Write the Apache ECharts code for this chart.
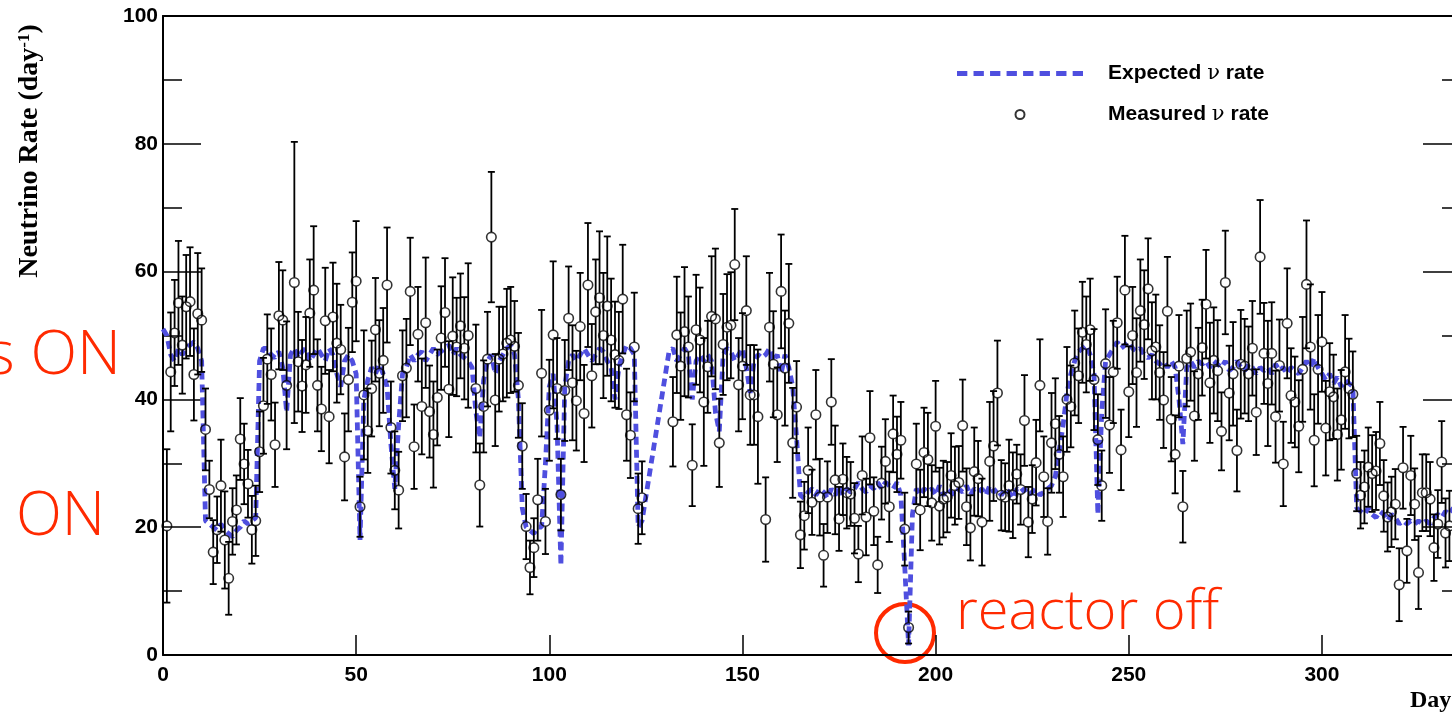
<!DOCTYPE html>
<html><head><meta charset="utf-8">
<script src="https://cdn.jsdelivr.net/npm/echarts@6/dist/echarts.min.js"></script>
<style>html,body{margin:0;padding:0;background:#fff}#c{width:1452px;height:720px}</style>
</head><body><div id="c"></div>
<script>
// ---- tick labels ----
const xTickLabels = ['0','50','100','150','200','250','300'];
const yTickLabels = ['0','20','40','60','80','100'];

// ---- expected rate, one value per day (index = day), null where no prediction ----
const expected = [
51,50,47,46,48,47,48,48.5,49,48,46,
21,20.5,20,19.5,20.5,19.5,19,18.5,19.5,20,21,20.5,21,21.5,
46,48,48,47,46.5,47.5,45,38,47,48,46.5,47.5,48,46,47,48,47,46,48,47,44,42,46,47,46,44,
18,40,43,45,44,45.5,44,42,33,26,36,44,45,47,46,47,47.5,46,47,48,47,47.5,48,48.5,47,48,47,46.5,46,45,
38,34,43,46,47,44,46,47,48,48.5,47,40,23,20,19.5,19,20,20,30,42,44,36,14,42,46,47,46,47,48,47,46,47,48,47.5,46,45,40,45,47,48.5,48,47,20,21,
null,null,null,null,null,null,
47.5,48,46,47,48,47,40,46,47,46,47,46,38,35,47,48,47.5,46,47,48,45,41,46,47,46.5,47,48,46,47,44,47,45,42,34,
25,24.5,25.5,26,25,26,25.5,24.5,26,25,26.5,25,26,25.5,26,27,26,25.5,26.5,26,27,26,27,26.5,26,27,25,14,1.5,22,26,
25,26,25.5,26,25,26.5,25,26,25.5,25,26,25.5,26.5,25,26,25.5,26,25,26.5,25.5,26,25,26,25.5,24.5,26,25.5,26,25,25.5,26,25,25.5,26,26.5,
28,32,36,41,44,46,47.5,48,48.5,47,44,22,38,46,47,48,49,48,48.5,49,48,47.5,48,47,46.5,47,46,45.5,46,45,46,45,40,33,
45,46,45,46,45.5,46,45,46,45.5,45,46,44.5,45,46,45,44.5,45.5,45,44,45,44.5,45,44,45.5,44.5,45,44,45,44.5,44,45,46,45,46.5,45,44,43,44,42.5,43.5,42,43,42.5,42,
23,22.5,22,23,22,21.5,22.5,22,21,22,21.5,20.5,21,20.5,21,20.5,21,20.5,21,20.5,21.5,22,21.5,22.5,22,23,22.5,23
];

// ---- measured rate ----
const measDays = [
1,2,3,4,5,6,7,8,9,10,11,12,13,14,15,16,17,18,19,20,21,22,23,24,25,26,27,28,29,30,31,32,
34,35,36,37,38,39,40,41,42,43,44,45,46,47,48,49,50,51,52,53,54,55,56,57,58,59,60,61,62,63,64,65,66,67,68,69,70,71,72,73,74,75,76,77,78,79,
81,82,83,84,85,86,87,88,89,90,91,92,93,94,95,96,97,98,99,100,101,102,103,104,105,106,107,108,109,110,111,112,113,114,115,116,117,118,119,120,121,122,123,124,
132,133,134,135,136,137,138,139,140,141,142,143,144,145,146,147,148,149,150,151,152,153,154,
156,157,158,159,160,161,162,163,164,165,166,167,168,169,170,171,172,173,174,175,176,177,178,179,180,181,182,183,184,185,186,187,188,189,190,191,192,193,
195,196,197,198,199,200,201,202,203,204,205,206,207,208,209,210,211,212,
214,215,216,217,218,219,220,221,222,223,224,225,226,227,228,229,
230,231,232,233,234,235,236,237,238,239,240,241,242,243,244,245,246,247,248,249,
250,251,252,253,254,255,256,257,258,259,260,261,262,263,264,265,266,267,268,269,
270,271,272,273,274,275,276,277,278,279,280,281,282,283,284,285,286,287,288,289,
290,291,292,293,294,295,296,297,298,299,300,301,302,303,304,305,306,307,308,309,
310,311,312,313,314,315,316,317,318,319,320,321,322,323,324,325,326,327,328,329,330,331,332,333
];
const measValues = [
20.2,44.3,50.4,55.1,48.5,54.5,55.3,43.9,53.4,52.4,35.3,25.9,16.1,19.6,26.5,18.0,12.0,20.9,22.7,33.8,29.9,26.8,19.6,21.0,31.8,39.0,46.3,43.9,32.9,53.1,52.4,42.2,
58.3,45.9,42.1,45.4,53.5,57.1,42.2,38.5,52.3,37.3,52.9,48.8,47.8,31.0,43.1,55.2,58.5,23.2,40.7,35.1,41.7,50.9,44.1,46.1,57.9,35.6,28.9,25.8,43.7,44.9,56.9,32.6,50.2,38.9,52.0,38.1,34.5,40.3,49.6,53.6,41.6,49.9,48.2,51.5,48.0,50.0,
41.7,26.6,38.9,46.3,65.4,39.9,46.3,47.1,48.8,49.3,48.3,42.2,32.7,20.1,13.7,16.8,24.3,44.1,20.9,38.3,50.1,41.7,25.1,41.4,52.7,42.6,39.8,51.4,37.8,57.9,43.7,53.7,55.9,50.0,54.6,49.3,47.0,46.1,55.7,37.6,34.4,48.2,22.9,24.6,
36.5,50.1,45.2,50.6,48.2,29.7,50.9,49.3,39.6,45.1,53.0,52.6,33.2,48.6,51.3,51.6,61.1,42.3,45.2,53.9,40.7,40.7,37.3,
21.2,51.3,45.5,37.6,56.9,44.9,51.9,33.2,38.8,18.8,21.8,28.9,23.9,37.6,24.7,15.6,24.7,39.6,27.4,21.3,27.5,25.4,25.2,21.4,15.8,28.1,21.6,34.0,22.5,14.1,26.9,30.3,23.2,34.6,31.4,33.6,19.7,4.3,
29.9,22.7,31.7,30.6,23.8,35.8,23.3,24.4,24.7,28.1,26.5,27.0,35.9,23.2,19.9,28.7,27.6,20.8,
30.3,32.7,41.0,25.0,24.7,26.5,25.0,28.3,25.9,36.7,20.8,24.4,30.1,42.2,27.9,20.9,
33.2,36.2,31.4,27.9,40.0,38.9,45.7,43.7,50.5,48.6,50.9,43.1,33.7,26.5,45.6,36.0,44.3,52.0,32.1,57.1,
41.2,50.0,44.2,53.9,51.7,57.3,47.6,48.2,44.2,39.9,53.8,36.9,31.4,45.2,23.2,46.4,47.4,37.4,44.0,48.1,
54.9,42.6,46.1,44.5,35.0,58.3,41.0,44.0,32.0,45.5,45.2,44.0,48.0,38.0,62.3,47.2,42.5,47.2,37.3,45.3,
29.9,51.9,40.6,39.6,35.8,44.7,58.0,48.2,33.6,44.7,49.0,35.5,41.2,40.4,34.5,36.8,44.3,41.7,40.8,28.4,
25.0,26.3,29.4,28.4,28.8,33.1,24.9,21.6,22.4,23.6,11.0,29.3,16.3,28.1,23.6,12.9,25.4,25.4,24.4,16.8,20.5,30.2,19.1,20.2
];
const measErrors = [
12.0,9.3,8.3,9.7,7.6,8.1,8.5,7.2,9.5,8.1,6.4,4.5,5.0,5.2,7.2,7.6,5.7,5.2,5.4,6.4,6.3,5.3,5.3,5.5,6.3,7.5,7.0,7.2,6.6,8.4,7.8,10.0,
22.0,7.8,7.2,7.5,8.4,10.0,7.2,6.6,8.3,7.3,8.5,9.3,7.0,6.8,8.1,7.8,9.4,4.7,10.1,6.6,7.5,8.1,8.3,8.2,9.0,7.2,6.1,6.0,7.1,7.7,8.4,6.6,7.4,7.5,10.2,7.2,8.3,7.5,8.1,8.5,7.5,9.2,7.7,8.2,8.0,11.3,
10.0,6.5,7.2,7.4,10.2,7.2,8.2,7.4,8.5,8.3,7.1,8.2,6.7,5.1,4.2,4.6,6.4,9.9,5.1,7.9,11.5,7.9,5.6,7.9,8.1,9.0,7.8,8.4,7.6,9.7,8.1,8.2,10.4,9.8,10.9,9.6,8.3,7.6,8.5,7.2,6.7,8.5,5.5,5.7,
7.0,9.1,8.4,10.1,7.9,6.4,8.6,8.2,10.0,7.2,9.4,11.0,6.9,7.9,8.3,8.3,8.7,7.3,8.3,8.5,7.8,7.8,10.5,
6.6,8.5,8.3,7.4,8.9,9.0,9.3,8.6,7.2,5.2,5.3,6.7,5.1,7.0,6.0,4.9,5.6,6.7,8.5,5.0,5.6,5.6,5.0,5.5,4.4,6.1,6.0,7.3,5.3,4.4,5.7,6.6,5.5,6.0,5.9,6.0,5.7,2.5,
6.3,6.3,7.0,7.3,5.9,7.1,6.0,6.0,5.5,6.6,6.1,5.7,7.2,6.0,5.1,6.9,5.9,6.8,
9.3,8.6,8.2,5.5,5.3,7.2,6.7,4.6,5.5,7.1,5.5,5.3,6.7,7.2,6.3,5.2,
7.8,7.1,6.0,6.3,8.2,6.4,8.2,7.4,7.9,7.5,8.0,7.9,7.1,5.5,8.5,7.5,8.0,7.2,6.3,8.5,
7.1,7.6,8.5,8.0,8.5,7.9,7.6,8.2,7.4,7.5,8.5,6.6,6.1,8.0,5.6,7.5,7.6,7.0,7.2,7.5,
8.5,9.4,8.3,7.9,6.1,8.1,7.4,8.1,6.4,8.5,7.4,7.4,7.4,6.7,8.9,7.9,9.8,8.0,7.2,7.2,
6.6,8.6,7.4,7.1,7.2,8.2,10.0,9.8,7.2,8.5,7.8,7.4,7.6,6.6,7.2,7.8,8.9,7.8,6.7,5.9,
5.2,5.7,6.2,6.0,6.1,6.5,5.6,5.4,5.5,5.5,5.7,6.4,5.0,6.2,5.6,5.7,6.0,6.0,5.8,5.2,5.3,6.4,5.4,5.5
];

// ---- build library data ----
const expData = [];
expected.forEach((v, i) => { if (v !== null) expData.push([i, v]); });
const measData = measDays.map((d, i) => [d, measValues[i], measErrors[i]]);

const BLUE = '#4f4fdf';
const RED = '#ff2a00';
const AXFONT = 'Liberation Sans, Arial, Helvetica, sans-serif';
const SERIF = 'Liberation Serif, Times New Roman, serif';
const ANNOT = 'Open Sans, Lato, sans-serif';

const chart = echarts.init(document.getElementById('c'), null, {renderer: 'canvas'});

const dashIcon = 'path://M0 0H10V5H0Z M16 0H26V5H16Z M32 0H42V5H32Z M48 0H58V5H48Z M64 0H74V5H64Z M80 0H90V5H80Z M96 0H106V5H96Z M112 0H122V5H112Z';

chart.setOption({
  animation: false,
  backgroundColor: '#fff',
  grid: {left: 163, top: 16, width: 1298, height: 639, containLabel: false, outerBoundsMode: 'none'},
  xAxis: [{
    type: 'value', min: 0, max: 336, interval: 50, position: 'bottom',
    axisLine: {show: true, onZero: false, lineStyle: {color: '#000', width: 2}},
    axisTick: {show: true, inside: true, length: 20, lineStyle: {color: '#000', width: 1.5}},
    axisLabel: {color: '#000', fontFamily: AXFONT, fontWeight: 'bold', fontSize: 21, margin: 10,
      formatter: v => xTickLabels.indexOf(String(v)) >= 0 ? String(v) : ''},
    splitLine: {show: false}
  }, {
    type: 'value', min: 0, max: 336, position: 'top',
    axisLine: {show: true, onZero: false, lineStyle: {color: '#000', width: 2}},
    axisTick: {show: false}, axisLabel: {show: false}, splitLine: {show: false}
  }],
  yAxis: [{
    type: 'value', min: 0, max: 100, interval: 20, position: 'left',
    axisLine: {show: true, onZero: false, lineStyle: {color: '#000', width: 2}},
    axisTick: {show: true, inside: true, length: 38, lineStyle: {color: '#000', width: 1.5}},
    minorTick: {show: true, splitNumber: 2, length: 19, lineStyle: {color: '#000', width: 1.5}},
    axisLabel: {color: '#000', fontFamily: AXFONT, fontWeight: 'bold', fontSize: 21, margin: 5,
      formatter: v => yTickLabels.indexOf(String(v)) >= 0 ? String(v) : ''},
    splitLine: {show: false}
  }, {
    type: 'value', min: 0, max: 100, interval: 20, position: 'right',
    axisLine: {show: true, onZero: false, lineStyle: {color: '#000', width: 2}},
    axisTick: {show: true, inside: true, length: 38, lineStyle: {color: '#000', width: 1.5}},
    minorTick: {show: true, splitNumber: 2, length: 19, lineStyle: {color: '#000', width: 1.5}},
    axisLabel: {show: false}, splitLine: {show: false}
  }],
  legend: {
    orient: 'vertical', left: 957, top: 62, padding: 0,
    itemWidth: 126, itemHeight: 9, itemGap: 18,
    formatter: name => name.replace('ν', '{nu|ν}'),
    textStyle: {color: '#000', fontFamily: AXFONT, fontWeight: 'bold', fontSize: 21, lineHeight: 23, padding: [0, 0, 0, 20],
      rich: {nu: {fontFamily: 'DejaVu Serif, Liberation Serif, serif', fontWeight: 'normal', fontSize: 21, color: '#000'}}},
    data: [
      {name: 'Expected ν rate', icon: dashIcon, itemStyle: {color: BLUE, borderWidth: 0}},
      {name: 'Measured ν rate', icon: 'circle'}
    ]
  },
  series: [{
    name: 'Expected ν rate', type: 'line', data: expData, xAxisIndex: 0, yAxisIndex: 0,
    symbol: 'none', showSymbol: false, silent: true, z: 2,
    lineStyle: {color: BLUE, width: 4.8, type: [8, 5]},
    itemStyle: {color: BLUE}
  }, {
    name: 'errors', type: 'custom', data: measData, xAxisIndex: 0, yAxisIndex: 0, z: 3, silent: true,
    encode: {x: 0, y: 1},
    renderItem: function (params, api) {
      const x = api.value(0), y = api.value(1), e = api.value(2);
      const c = api.coord([x, y]);
      const t = api.coord([x, y + e]);
      const b = api.coord([x, Math.max(0, y - e)]);
      const r = 5, cap = 3.5;
      const st = {stroke: '#000', lineWidth: 1.8};
      const kids = [];
      if (c[1] - r > t[1]) kids.push({type: 'line', shape: {x1: c[0], y1: c[1] - r, x2: t[0], y2: t[1]}, style: st});
      if (b[1] > c[1] + r) kids.push({type: 'line', shape: {x1: c[0], y1: c[1] + r, x2: b[0], y2: b[1]}, style: st});
      kids.push({type: 'line', shape: {x1: t[0] - cap, y1: t[1], x2: t[0] + cap, y2: t[1]}, style: st});
      kids.push({type: 'line', shape: {x1: b[0] - cap, y1: b[1], x2: b[0] + cap, y2: b[1]}, style: st});
      return {type: 'group', children: kids};
    }
  }, {
    name: 'Measured ν rate', type: 'scatter', data: measData, xAxisIndex: 0, yAxisIndex: 0, z: 4,
    encode: {x: 0, y: 1},
    symbol: 'circle', symbolSize: 9.5,
    itemStyle: {color: 'rgba(255,255,255,0)', borderColor: '#000', borderWidth: 1.6}
  }],
  graphic: [
    {type: 'text', x: 30, y: 151, rotation: Math.PI / 2,
      style: {text: '{a|Neutrino Rate (day}{b|-1}{a|)}', textAlign: 'center', textVerticalAlign: 'middle',
        rich: {a: {fontFamily: SERIF, fontWeight: 'bold', fontSize: 28, fill: '#000'},
               b: {fontFamily: SERIF, fontWeight: 'bold', fontSize: 17, fill: '#000', verticalAlign: 'top'}}}},
    {type: 'text', left: 1410, top: 689,
      style: {text: 'Days', font: 'bold 24px ' + SERIF, fill: '#000'}},
    {type: 'text', x: 121, y: 357,
      style: {text: '2 reactors ON', textAlign: 'right', textVerticalAlign: 'middle', font: '300 61px ' + ANNOT, fill: RED}},
    {type: 'text', x: 105, y: 518,
      style: {text: '1 reactor\u2003ON', textAlign: 'right', textVerticalAlign: 'middle', font: '300 60px ' + ANNOT, fill: RED}},
    {type: 'text', x: 956, y: 613,
      style: {text: 'reactor off', textAlign: 'left', textVerticalAlign: 'middle', font: '300 56px ' + ANNOT, fill: RED}},
    {type: 'circle', shape: {cx: 905, cy: 633, r: 29}, style: {fill: 'none', stroke: RED, lineWidth: 4}}
  ]
});
</script></body></html>
